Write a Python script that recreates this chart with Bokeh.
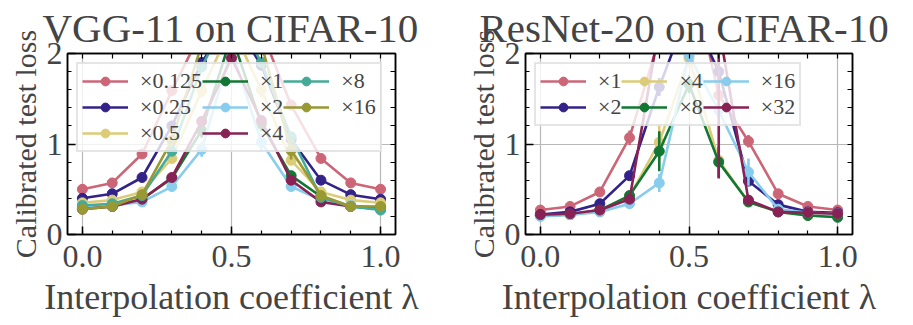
from bokeh.plotting import figure
from bokeh.models import (ColumnDataSource, FixedTicker, LinearAxis, Range1d,
                          Legend, LegendItem)
from bokeh.layouts import row
from bokeh.embed import file_html
from bokeh.resources import INLINE

# ---------------- data ----------------
lam = [0.0, 0.1, 0.2, 0.3, 0.4, 0.5, 0.6, 0.7, 0.8, 0.9, 1.0]

vgg_labels = ["×0.125", "×0.25", "×0.5", "×1", "×2", "×4", "×8", "×16"]
vgg_w0125 = [0.50, 0.57, 0.89, 1.59, 2.25, 2.70, 2.25, 1.43, 0.84, 0.57, 0.50]
vgg_w025 = [0.40, 0.45, 0.63, 1.20, 1.90, 2.40, 1.87, 1.05, 0.60, 0.44, 0.39]
vgg_w05 = [0.35, 0.38, 0.47, 0.84, 1.59, 2.30, 1.60, 0.82, 0.47, 0.38, 0.35]
vgg_w1 = [0.29, 0.31, 0.39, 0.62, 1.15, 2.20, 1.22, 0.65, 0.42, 0.31, 0.28]
vgg_w2 = [0.31, 0.32, 0.36, 0.53, 0.94, 2.05, 1.02, 0.53, 0.38, 0.32, 0.29]
vgg_w4 = [0.28, 0.31, 0.39, 0.63, 1.25, 1.95, 1.26, 0.60, 0.36, 0.31, 0.30]
vgg_w8 = [0.32, 0.34, 0.43, 0.92, 1.85, 2.50, 1.90, 1.08, 0.41, 0.31, 0.27]
vgg_w16 = [0.28, 0.31, 0.44, 1.04, 2.10, 2.60, 2.10, 0.93, 0.43, 0.31, 0.31]

vgg_e0125 = [0.01, 0.01, 0.02, 0.03, 0.05, 0.05, 0.05, 0.03, 0.02, 0.01, 0.01]
vgg_e025 = [0.01, 0.01, 0.02, 0.03, 0.05, 0.05, 0.05, 0.03, 0.02, 0.01, 0.01]
vgg_e05 = [0.01, 0.01, 0.02, 0.04, 0.08, 0.05, 0.08, 0.04, 0.02, 0.01, 0.01]
vgg_e1 = [0.01, 0.01, 0.02, 0.03, 0.08, 0.05, 0.08, 0.05, 0.02, 0.01, 0.01]
vgg_e2 = [0.01, 0.01, 0.02, 0.05, 0.08, 0.05, 0.10, 0.04, 0.02, 0.01, 0.01]
vgg_e4 = [0.01, 0.01, 0.02, 0.03, 0.05, 0.05, 0.05, 0.03, 0.02, 0.01, 0.01]
vgg_e8 = [0.01, 0.01, 0.02, 0.04, 0.05, 0.05, 0.05, 0.04, 0.02, 0.01, 0.01]
vgg_e16 = [0.01, 0.01, 0.02, 0.04, 0.05, 0.05, 0.05, 0.10, 0.02, 0.01, 0.01]

res_labels = ["×1", "×2", "×4", "×8", "×16", "×32"]
res_w1 = [0.27, 0.31, 0.47, 1.07, 2.17, 3.00, 1.54, 1.03, 0.45, 0.31, 0.27]
res_w2 = [0.22, 0.25, 0.34, 0.65, 1.63, 2.50, 1.80, 0.59, 0.33, 0.25, 0.24]
res_w4 = [0.21, 0.22, 0.25, 0.42, 1.02, 1.95, 0.82, 0.36, 0.25, 0.21, 0.20]
res_w8 = [0.21, 0.22, 0.27, 0.43, 0.92, 1.66, 0.80, 0.36, 0.25, 0.21, 0.19]
res_w16 = [0.20, 0.22, 0.25, 0.34, 0.57, 1.98, 1.37, 0.69, 0.28, 0.24, 0.23]
res_w32 = [0.22, 0.23, 0.27, 0.39, 2.30, 3.50, 2.30, 0.38, 0.25, 0.24, 0.23]

res_e1 = [0.01, 0.01, 0.02, 0.08, 0.10, 0.10, 0.10, 0.07, 0.02, 0.01, 0.01]
res_e2 = [0.01, 0.01, 0.02, 0.04, 0.10, 0.10, 0.10, 0.04, 0.02, 0.01, 0.01]
res_e4 = [0.01, 0.01, 0.01, 0.03, 0.20, 0.10, 0.05, 0.02, 0.01, 0.01, 0.01]
res_e8 = [0.01, 0.01, 0.01, 0.05, 0.22, 0.10, 0.17, 0.03, 0.01, 0.01, 0.01]
res_e16 = [0.01, 0.01, 0.01, 0.04, 0.10, 0.10, 0.10, 0.15, 0.02, 0.01, 0.01]
res_e32 = [0.01, 0.01, 0.01, 0.03, 0.30, 0.30, 1.68, 0.05, 0.01, 0.01, 0.01]

x_ticks = [0.0, 0.5, 1.0]
x_minor = [0.0, 0.1, 0.2, 0.3, 0.4, 0.5, 0.6, 0.7, 0.8, 0.9, 1.0]
y_ticks = [0, 1, 2]
y_minor = [0.0, 0.2, 0.4, 0.6, 0.8, 1.0, 1.2, 1.4, 1.6, 1.8, 2.0]

muted = ["#CC6677", "#332288", "#DDCC77", "#117733",
         "#88CCEE", "#882255", "#44AA99", "#999933"]

FONT = "Liberation Serif"


def style_axis(ax):
    ax.major_tick_in = 8
    ax.major_tick_out = 0
    ax.minor_tick_in = 4
    ax.minor_tick_out = 0
    ax.axis_line_color = "black"
    ax.axis_line_width = 1.5
    ax.major_tick_line_width = 1.5
    ax.minor_tick_line_width = 1.2


def mirror_axis(ticker_minor):
    # tick marks only (no labels) for the top / right sides
    ax = LinearAxis(ticker=FixedTicker(ticks=[], minor_ticks=ticker_minor))
    style_axis(ax)
    ax.minor_tick_in = 5
    ax.major_label_standoff = 0
    ax.axis_label_standoff = 0
    return ax


def make_fig(title, title_shift, labels, vals, errs, colors, nrows,
             b_left, b_right, fw):
    p = figure(frame_width=fw, frame_height=181,
               x_range=Range1d(-0.05, 1.05), y_range=Range1d(0, 2),
               output_backend="svg", toolbar_location=None,
               min_border_left=b_left, min_border_right=b_right,
               min_border_top=52, min_border_bottom=84)
    p.title.text = title
    p.title.text_font = FONT
    p.title.text_font_size = "41px"
    p.title.text_font_style = "normal"
    p.title.align = "left"
    p.title.standoff = 5
    p.title.offset = title_shift

    xt = FixedTicker(ticks=x_ticks, minor_ticks=x_minor)
    yt = FixedTicker(ticks=y_ticks, minor_ticks=y_minor)

    p.xaxis.ticker = xt
    p.yaxis.ticker = yt
    p.xaxis.major_label_overrides = {0.0: "0.0", 0.5: "0.5", 1.0: "1.0"}
    p.xaxis.axis_label = "Interpolation coefficient λ"
    p.yaxis.axis_label = "Calibrated test loss"
    for ax in (p.xaxis[0], p.yaxis[0]):
        style_axis(ax)
        ax.major_label_text_font = FONT
        ax.major_label_text_font_size = "32px"
        ax.axis_label_text_font = FONT
        ax.axis_label_text_font_style = "normal"
    p.xaxis.major_label_standoff = 11
    p.yaxis.major_label_standoff = 5
    p.xaxis.axis_label_text_font_size = "36px"
    p.yaxis.axis_label_text_font_size = "30px"
    p.xaxis.axis_label_standoff = 7
    p.yaxis.axis_label_standoff = 2

    p.add_layout(mirror_axis(x_minor), "above")
    p.add_layout(mirror_axis(y_minor), "right")

    p.xgrid.ticker = xt
    p.ygrid.ticker = yt
    for g in (p.xgrid[0], p.ygrid[0]):
        g.grid_line_color = "#b8b8b8"
        g.grid_line_width = 1.2
    p.outline_line_color = "black"
    p.outline_line_width = 1.5
    p.background_fill_color = "white"

    items = []
    for lab, v, e, c in zip(labels, vals, errs, colors):
        src = ColumnDataSource(dict(
            x=lam, y=v,
            lo=[a - b for a, b in zip(v, e)],
            hi=[a + b for a, b in zip(v, e)]))
        r_line = p.line("x", "y", source=src, line_color=c, line_width=2.6)
        p.segment(x0="x", y0="lo", x1="x", y1="hi", source=src,
                  line_color=c, line_width=2.6)
        r_pt = p.scatter("x", "y", source=src, size=10, fill_color=c,
                         line_color=c)
        items.append(LegendItem(label=lab, renderers=[r_line, r_pt]))

    leg = Legend(items=items, location="top_left", orientation="vertical",
                 nrows=nrows)
    leg.label_text_font = FONT
    leg.label_text_font_size = "22px"
    leg.glyph_width = 46
    leg.glyph_height = 22
    leg.label_height = 22
    leg.label_standoff = 12
    leg.spacing = 0
    leg.padding = 4
    leg.margin = 9
    leg.border_line_color = "#cccccc"
    leg.border_line_width = 2
    leg.background_fill_alpha = 0.8
    p.add_layout(leg)
    return p


p1 = make_fig("VGG-11 on CIFAR-10", -25, vgg_labels,
              [vgg_w0125, vgg_w025, vgg_w05, vgg_w1, vgg_w2, vgg_w4, vgg_w8, vgg_w16],
              [vgg_e0125, vgg_e025, vgg_e05, vgg_e1, vgg_e2, vgg_e4, vgg_e8, vgg_e16],
              muted, 3, 67, 66, 328)
p2 = make_fig("ResNet-20 on CIFAR-10", -46, res_labels,
              [res_w1, res_w2, res_w4, res_w8, res_w16, res_w32],
              [res_e1, res_e2, res_e4, res_e8, res_e16, res_e32],
              muted[:6], 2, 64, 52, 327)

layout = row(p1, p2)
open("out.html", "w").write(file_html(layout, INLINE))
